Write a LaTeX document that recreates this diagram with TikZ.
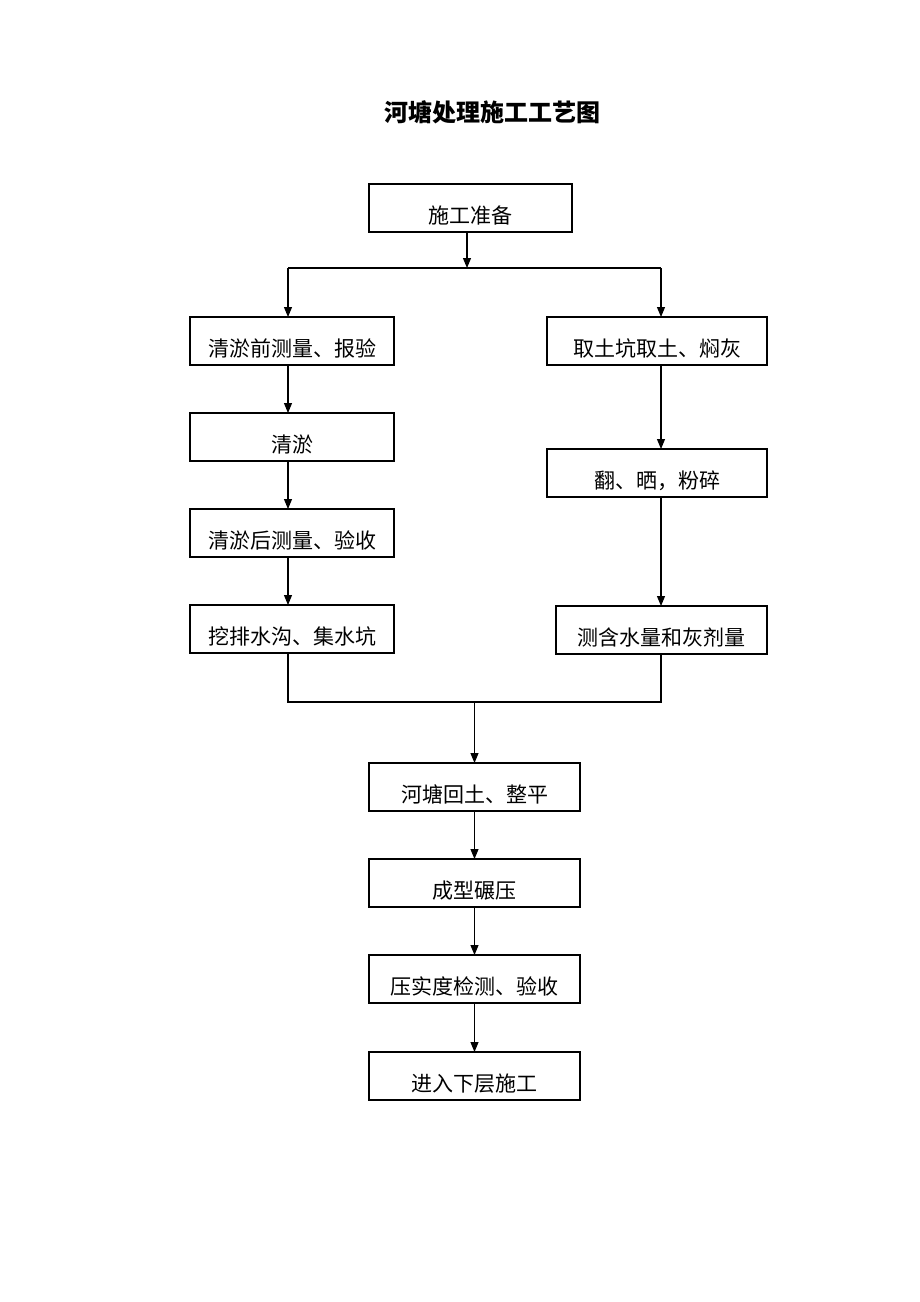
\documentclass[tikz,border=0pt]{standalone}
\usepackage{fontspec}
\newfontfamily\cjk{Noto Sans CJK SC}
\usepackage{tikz}
\usetikzlibrary{positioning}
\usetikzlibrary{arrows.meta}

\begin{document}
\begin{tikzpicture}[x=1pt, y=-1pt,
    boxnode/.style={rectangle, draw, line width=1.2pt, minimum height=48pt,
      inner sep=0pt, outer sep=0pt, text height=30pt, text depth=0pt,
      font=\cjk\fontsize{21}{25}\selectfont},
    link/.style={line width=1.1pt},
    flow/.style={link, -{Triangle[length=10pt, width=8pt]}}, ]
    \useasboundingbox (0,0) rectangle (920,1302);
    % Title
    \node[font=\cjk\bfseries\fontsize{24}{28}\selectfont] (title) at (492,112) {河塘处理施工工艺图};
    % Nodes
    \node[boxnode, minimum width=203pt] (prep) at (470.5,208) {施工准备};
    \node[boxnode, minimum width=204pt] (prebank) at (292,341) {清淤前测量、报验};
    \node[boxnode, minimum width=204pt] (dredge) [below=48pt of prebank] {清淤};
    \node[boxnode, minimum width=204pt] (postbank) [below=48pt of dredge] {清淤后测量、验收};
    \node[boxnode, minimum width=204pt] (ditch) [below=48pt of postbank] {挖排水沟、集水坑};
    \node[boxnode, minimum width=220pt] (pick) at (657,341) {取土坑取土、焖灰};
    \node[boxnode, minimum width=220pt] (dry) [below=84pt of pick] {翻、晒，粉碎};
    \node[boxnode, minimum width=211pt] (test) [below=109pt of dry.south east, anchor=north east] {测含水量和灰剂量};
    \node[boxnode, minimum width=211pt] (fill) at (474.5,787) {河塘回土、整平};
    \node[boxnode, minimum width=211pt] (roll) [below=48pt of fill] {成型碾压};
    \node[boxnode, minimum width=211pt] (check) [below=48pt of roll] {压实度检测、验收};
    \node[boxnode, minimum width=211pt] (next) [below=49pt of check] {进入下层施工};
    % Branch points
    \coordinate (lx) at (288,0);
    \coordinate (mx) at (467,0);
    \coordinate (rx) at (661,0);
    \coordinate[below=36pt of prep.south -| mx] (split);
    \coordinate[above=61pt of fill.north] (merge);
    % Lines
    \draw[flow] (prep.south -| mx) -- (split);
    \draw[link] (split -| lx) -- (split -| rx);
    \draw[flow] (split -| lx) -- (prebank.north -| lx);
    \draw[flow] (split -| rx) -- (pick.north -| rx);
    \draw[flow] (prebank.south -| lx) -- (dredge.north -| lx);
    \draw[flow] (dredge.south -| lx) -- (postbank.north -| lx);
    \draw[flow] (postbank.south -| lx) -- (ditch.north -| lx);
    \draw[flow] (pick.south -| rx) -- (dry.north -| rx);
    \draw[flow] (dry.south -| rx) -- (test.north -| rx);
    \draw[link] (ditch.south -| lx) -- (merge -| lx) -- (merge -| rx) -- (test.south -| rx);
    \draw[flow] (merge) -- (fill.north);
    \draw[flow] (fill) -- (roll);
    \draw[flow] (roll) -- (check);
    \draw[flow] (check) -- (next);
\end{tikzpicture}
\end{document}
